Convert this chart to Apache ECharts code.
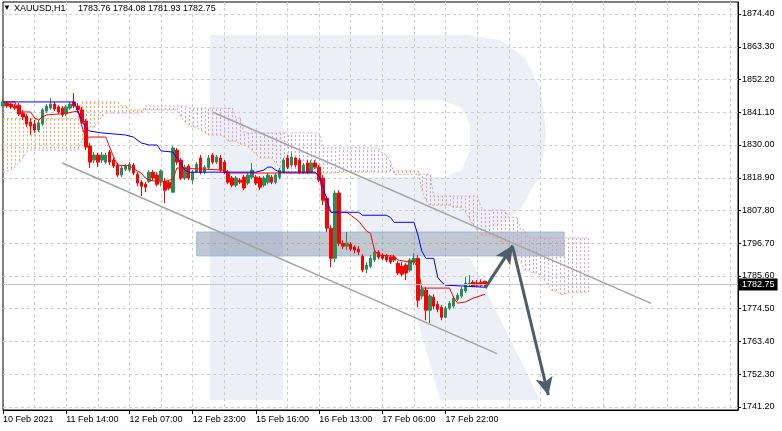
<!DOCTYPE html>
<html><head><meta charset="utf-8">
<script src="https://cdn.jsdelivr.net/npm/echarts@6/dist/echarts.min.js"></script>
<style>html,body{margin:0;padding:0;background:#fff}#c{width:782px;height:431px}</style>
</head><body><div id="c"></div>
<script>
// ---------------- data ----------------
const symbolName = 'XAUUSD,H1';
const lastQuote = ['1783.76', '1784.08', '1781.93', '1782.75'];
const lastPrice = 1782.75;
const timeLabels = ['10 Feb 2021', '11 Feb 14:00', '12 Feb 07:00', '12 Feb 23:00', '15 Feb 16:00', '16 Feb 13:00', '17 Feb 06:00', '17 Feb 22:00'];
const barsPerTimeLabel = 16;
const totalSlots = 187;
const yTicks = [1741.2, 1752.3, 1763.4, 1774.5, 1785.6, 1796.7, 1807.8, 1818.9, 1830.0, 1841.1, 1852.2, 1863.3, 1874.4];
const yMin = 1740.18, yMax = 1878.47;

const opens = [1843.2,1844.2,1843.9,1843.2,1843.5,1840.8,1839.8,1837.8,1837.1,1835.1,1837.1,1841.5,1842.5,1843.9,1842.9,1842.5,1840.5,1842.5,1844.6,1843.2,
1841.9,1838.1,1829.7,1824.9,1826.6,1824.9,1824.2,1827.6,1824.9,1823.2,1819.8,1821.8,1821.5,1823.2,1820.1,1817.4,1816.7,1817.7,1820.8,1819.8,
1817.7,1817.7,1817.4,1814.0,1828.3,1824.9,1818.8,1822.9,1818.1,1820.8,1825.6,1820.8,1822.2,1826.6,1824.2,1825.6,1824.2,1820.8,1818.8,1816.4,
1818.1,1819.1,1817.1,1819.1,1819.1,1818.8,1816.4,1817.4,1819.1,1817.4,1819.1,1820.8,1825.6,1823.2,1825.6,1824.9,1820.8,1823.9,1820.8,1823.9,
1822.5,1818.8,1812.0,1801.8,1791.6,1813.7,1796.7,1795.7,1796.4,1795.4,1794.7,1792.3,1787.9,1788.9,1791.0,1793.7,1792.7,1792.3,1792.0,1792.0,
1789.9,1788.9,1789.3,1787.6,1790.3,1791.6,1778.8,1780.8,1774.0,1778.4,1776.0,1775.0,1771.6,1774.7,1775.4,1777.7,1778.8,1780.5,1782.8,1783.5,
1783.2,1783.5,1783.76];
const closes = [1844.6,1843.2,1842.9,1842.5,1840.5,1839.5,1837.1,1836.4,1835.1,1837.5,1841.9,1843.2,1843.9,1842.2,1841.2,1840.2,1842.9,1843.9,1843.2,1841.9,
1837.8,1829.3,1824.2,1826.6,1824.2,1826.6,1826.6,1824.2,1822.9,1819.8,1822.2,1822.9,1823.5,1820.5,1817.1,1816.0,1815.7,1820.8,1818.8,1816.7,
1821.2,1814.7,1815.4,1829.0,1824.2,1818.8,1822.5,1818.8,1820.8,1823.5,1820.8,1822.5,1825.6,1824.2,1825.9,1821.5,1820.8,1817.4,1816.4,1818.8,
1817.4,1815.4,1819.8,1821.5,1817.1,1815.7,1818.8,1819.8,1817.4,1819.8,1821.5,1824.9,1822.5,1825.9,1823.2,1820.8,1823.2,1820.8,1823.9,1822.5,
1818.1,1811.3,1801.8,1791.6,1813.7,1796.7,1795.7,1796.7,1794.7,1794.4,1793.7,1787.6,1789.3,1791.6,1793.7,1792.0,1791.6,1791.0,1790.3,1791.0,
1786.6,1786.2,1786.6,1791.0,1791.6,1777.4,1781.1,1774.0,1778.8,1775.4,1774.3,1771.6,1774.7,1776.4,1778.1,1779.1,1781.1,1783.2,1783.2,1782.2,
1782.5,1782.5,1782.75];
const highs = [1845.6,1844.9,1844.2,1843.9,1844.2,1841.9,1840.5,1839.1,1838.5,1838.5,1842.5,1843.9,1845.9,1844.6,1843.5,1843.2,1843.5,1844.6,1847.6,1844.2,
1842.9,1838.8,1830.7,1827.6,1827.3,1827.6,1827.3,1828.3,1825.6,1823.9,1822.9,1823.5,1824.2,1823.9,1820.8,1818.1,1817.4,1821.5,1821.5,1820.8,
1821.8,1818.8,1818.1,1829.7,1829.0,1825.6,1823.2,1823.5,1821.5,1824.2,1826.6,1823.2,1826.6,1827.3,1826.6,1826.6,1824.9,1821.5,1819.5,1819.5,
1818.8,1819.8,1820.5,1823.9,1819.8,1819.5,1819.5,1820.5,1819.8,1820.5,1822.2,1825.6,1826.6,1827.3,1825.9,1825.6,1823.9,1824.9,1824.9,1824.9,
1823.2,1819.8,1812.7,1802.8,1814.7,1814.7,1797.7,1800.5,1797.1,1796.0,1795.7,1793.0,1790.3,1792.7,1794.7,1794.4,1793.3,1793.0,1792.7,1792.7,
1790.6,1790.3,1789.9,1791.6,1793.3,1792.7,1782.2,1781.8,1779.4,1779.4,1777.1,1775.7,1775.4,1777.1,1778.8,1779.8,1781.8,1785.2,1785.9,1784.2,
1784.2,1784.5,1784.08];
const lows = [1842.5,1842.5,1842.2,1841.9,1839.8,1838.5,1836.1,1833.4,1834.1,1834.4,1836.4,1840.8,1841.9,1841.5,1840.5,1839.5,1839.8,1841.9,1842.5,1840.8,
1837.1,1828.3,1822.2,1823.9,1822.5,1823.9,1823.5,1823.2,1822.2,1819.1,1819.1,1821.2,1820.8,1819.8,1816.0,1812.7,1814.0,1817.1,1818.1,1816.0,
1816.0,1810.3,1814.7,1813.7,1823.2,1818.1,1818.1,1818.1,1816.7,1820.5,1820.1,1820.1,1821.5,1823.5,1823.5,1820.8,1820.1,1816.7,1815.7,1815.7,
1816.7,1814.7,1816.4,1818.4,1816.4,1814.7,1815.7,1816.7,1816.7,1816.7,1818.4,1820.5,1821.8,1822.5,1822.5,1820.1,1820.1,1820.1,1820.5,1821.8,
1817.4,1809.6,1800.5,1788.6,1790.3,1795.7,1794.7,1794.4,1794.0,1793.3,1792.7,1786.9,1786.6,1788.2,1790.3,1791.3,1791.0,1790.3,1789.6,1790.3,
1785.9,1785.5,1784.2,1786.9,1789.3,1775.0,1777.7,1770.6,1769.6,1774.3,1773.3,1770.6,1771.3,1774.0,1774.7,1777.1,1778.1,1779.8,1782.2,1781.8,
1781.8,1781.8,1781.93];

// Ichimoku lines, read as [bar index, price] vertices
const tenkan = [[0,1844.6],[3,1844.6],[4,1841.2],[7,1841.2],[8,1839.1],[9,1838.5],[10,1839.5],[11,1840.2],[14,1840.5],[16,1840.8],[19,1841.5],[20,1836.1],[21,1832.4],[22,1832.7],[26,1832.7],[27,1829.3],[28,1825.9],[29,1823.2],[32,1822.9],[34,1821.2],[35,1820.5],[36,1818.8],[37,1818.1],[40,1817.4],[43,1818.4],[44,1822.2],[56,1821.5],[57,1820.5],[79,1820.5],[80,1819.5],[81,1813.0],[82,1808.9],[83,1807.2],[87,1807.2],[88,1806.2],[90,1804.2],[92,1800.8],[93,1800.1],[94,1794.4],[95,1792.7],[99,1792.3],[100,1791.0],[103,1790.3],[104,1790.6],[105,1788.2],[106,1781.5],[113,1781.5],[114,1778.4],[115,1776.4],[117,1776.8],[119,1778.1],[122,1779.4]];
const kijun = [[0,1844.6],[18,1844.6],[20,1838.1],[21,1835.7],[22,1834.7],[25,1834.1],[31,1833.4],[33,1832.7],[35,1830.7],[37,1830.0],[39,1830.0],[40,1828.0],[43,1827.6],[44,1825.6],[45,1823.9],[46,1821.5],[47,1820.8],[64,1820.8],[66,1821.5],[67,1822.5],[68,1822.5],[69,1821.5],[70,1820.8],[79,1820.8],[80,1819.5],[81,1815.7],[82,1811.3],[83,1807.2],[90,1807.2],[91,1806.2],[97,1806.2],[98,1805.5],[99,1803.8],[104,1803.8],[105,1799.5],[106,1794.0],[107,1791.6],[109,1791.6],[110,1785.2],[111,1783.5],[112,1782.5],[122,1781.8]];
const spanA = [1838.9,1838.9,1838.9,1838.9,1838.9,1838.9,1838.9,1838.9,1838.9,1838.9,1838.9,1838.9,1838.9,1838.9,1838.9,1838.9,1838.9,1838.9,1838.9,1838.9,
1844.6,1844.6,1844.6,1844.6,1844.6,1844.6,1844.6,1844.6,1844.6,1844.6,1843.2,1843.2,
1841.9,1841.9,1841.9,1841.9,1841.9,1841.9,1841.9,1841.9,1841.9,1841.9,1841.9,1841.9,1841.9,
1839.8,1837.8,1836.8,1836.1,1836.1,1835.1,1834.1,1833.4,1833.4,1833.4,1833.4,1832.7,1831.3,1831.3,1831.3,1830.3,1830.3,1829.3,1828.3,1826.9,
1825.6,1825.6,1825.6,1825.6,1823.9,1822.5,1821.5,
1820.5,1820.5,1820.5,1820.5,1820.5,1820.5,1820.5,1820.5,1820.5,1820.5,1820.5,1820.5,1820.5,
1820.8,1820.8,1820.8,1820.8,1820.8,1820.8,1820.8,1820.8,1820.8,1820.8,1820.8,1820.8,1820.8,
1821.2,1821.2,1821.2,1821.2,1821.2,1821.2,1821.2,1821.2,
1814.7,1811.3,1809.6,1809.6,1809.6,1809.6,1809.6,1809.6,1808.9,1808.9,1808.9,1807.2,1805.2,1802.8,1801.2,
1799.5,1799.5,1799.5,1798.5,1798.5,1797.1,1797.1,1795.7,1794.4,1792.3,1790.3,1787.6,1787.6,1786.6,1786.6,1785.9,1784.2,1782.5,
1780.5,1780.5,1779.4,1779.4,1780.1,1780.1,1780.1,1780.1,1780.1,1780.1];
const spanB = [1820.8,1821.2,1821.5,1822.5,1823.9,1825.6,1827.6,
1828.3,1828.3,1828.3,1828.3,1828.3,1828.3,1828.3,1828.3,1828.3,1828.3,1828.3,1828.3,1828.3,
1831.7,1834.1,1836.1,1836.1,1837.8,1839.5,
1840.8,1840.8,1840.8,1840.8,1840.8,1840.8,1840.8,1840.8,1840.8,1840.8,
1843.2,1843.2,1843.2,1843.2,1843.2,1843.2,1843.2,1843.2,1843.2,1843.2,1843.2,
1842.5,1842.5,1842.5,1842.5,1842.5,1842.5,1842.5,1842.5,1842.5,1842.5,1842.5,1842.5,
1839.1,1839.1,
1834.1,1834.1,1834.1,1834.1,1834.1,1834.1,1834.1,1834.1,1834.1,1834.1,1834.1,1834.1,1834.1,1834.1,1834.1,1834.1,1834.1,1834.1,1834.1,1834.1,
1829.0,1829.0,1829.0,1829.0,1829.0,1829.0,1829.0,1829.0,1829.0,1829.0,1829.0,1829.0,1829.0,1829.0,1829.0,
1827.3,1826.6,1824.5,
1820.1,1820.1,1820.1,1820.1,1820.1,1820.1,1820.1,1820.1,1820.1,1820.1,
1812.7,1812.7,1812.7,1812.7,1812.7,1812.7,1812.7,1812.7,1812.7,1812.7,1812.7,1812.7,
1808.9,1807.9,1807.9,1807.9,1807.9,1807.9,1807.9,1805.5,1805.5,1805.5,1801.2,1801.2,
1798.5,1798.5,1798.5,1798.5,1798.5,1798.5,1798.5,1798.5,1798.5,1798.5,1798.5,1798.5,1798.5,1798.5,1798.5,1798.5];

// drawing objects (bar index, price)
const upperChannel = [[53, 1841.2], [164, 1776.3]];
const lowerChannel = [[15, 1823.9], [125, 1759.3]];
const zone = [[49, 1800.5], [142, 1792.4]];
const arrowUp = [[122, 1781.5], [129, 1795.9]];
const arrowDown = [[129, 1795.3], [138, 1745.2]];

// ---------------- chart ----------------
const categories = [];
for (let i = 0; i < totalSlots; i++) {
  const k = i / barsPerTimeLabel;
  categories.push(i % barsPerTimeLabel === 0 && k < timeLabels.length ? timeLabels[k] : '');
}
const candles = opens.map((o, i) => [o, closes[i], lows[i], highs[i]]);
const cloud = spanA.map((a, i) => [i, a, spanB[i]]);
const isTimeTick = (i) => i % barsPerTimeLabel === 0 && i / barsPerTimeLabel < timeLabels.length;

const FONT = 'Liberation Sans, Arial, sans-serif';
const WM = '#ECF0F6';
const UPC = '#F4A460', DNC = '#D2A0D2';
const chart = echarts.init(document.getElementById('c'), null, {renderer: 'canvas'});
chart.setOption({
  animation: false,
  backgroundColor: '#ffffff',
  textStyle: {fontFamily: FONT},
  grid: {left: 3, right: 44, top: 2, bottom: 21, show: true, borderColor: '#000', borderWidth: 1, backgroundColor: 'transparent'},
  graphic: [
    {type: 'rect', z: -10, silent: true, shape: {x: 210, y: 35, width: 73, height: 365}, style: {fill: WM}},
    {type: 'polygon', z: -10, silent: true, shape: {points: [[283,35],[468,35],[500,40],[525,58],[541,90],[546,134],[540,175],[520,210],[495,228],[466,233],[357,233],[357,177],[446,177],[462,170],[470,150],[470,125],[462,108],[442,100],[283,100]]}, style: {fill: WM}},
    {type: 'polygon', z: -10, silent: true, shape: {points: [[400, 258], [470, 258], [540, 400], [440, 400]]}, style: {fill: WM}},
    {type: 'text', z: 20, left: 3, top: 4, style: {text: '▼', fontSize: 8, fill: '#000', fontFamily: FONT}},
    {type: 'text', z: 20, left: 14, top: 4, style: {text: symbolName, fontSize: 9, fill: '#000', fontFamily: FONT}},
    {type: 'text', z: 20, left: 78, top: 4, style: {text: lastQuote.join(' '), fontSize: 9, fill: '#000', fontFamily: FONT}}
  ],
  xAxis: {
    type: 'category', data: categories, boundaryGap: false,
    axisLine: {show: true, lineStyle: {color: '#000', width: 1}},
    axisTick: {show: true, length: 4, interval: isTimeTick, lineStyle: {color: '#000'}},
    axisLabel: {show: true, interval: isTimeTick, align: 'left', margin: 5, fontSize: 9, color: '#000', fontFamily: FONT},
    splitLine: {show: true, interval: (i) => i % 8 === 0 && i > 0, lineStyle: {color: '#CFCFCF', type: [3, 3], width: 1}}
  },
  yAxis: {
    type: 'value', position: 'right', min: yMin, max: yMax,
    axisLine: {show: true, lineStyle: {color: '#000', width: 1}},
    axisTick: {show: true, length: 3, customValues: yTicks, lineStyle: {color: '#000'}},
    axisLabel: {show: true, customValues: yTicks, margin: 4, fontSize: 9, color: '#000', fontFamily: FONT, formatter: (v) => v.toFixed(2)},
    splitLine: {show: true, lineStyle: {color: '#CFCFCF', type: [3, 3], width: 1}}
  },
  series: [
    {
      type: 'custom', name: 'kumo', z: 1, silent: true, data: cloud, encode: {x: 0, y: [1, 2]},
      renderItem: (params, api) => {
        const i = api.value(0), a = api.value(1), b = api.value(2);
        const p1 = api.coord([i, a]), p2 = api.coord([i, b]);
        const x = Math.round(p1[0]) + 0.5;
        return {type: 'line', shape: {x1: x, y1: p1[1], x2: x, y2: p2[1]},
          style: {stroke: a >= b ? UPC : DNC, lineWidth: 1, lineDash: [2, 2]}};
      }
    },
    {type: 'line', name: 'spanA', z: 2, silent: true, data: spanA, symbol: 'none', lineStyle: {color: UPC, width: 1, type: [2, 2]}},
    {type: 'line', name: 'spanB', z: 2, silent: true, data: spanB, symbol: 'none', lineStyle: {color: DNC, width: 1, type: [2, 2]}},
    {
      type: 'candlestick', name: 'XAUUSD', z: 3, data: candles, barWidth: 3,
      itemStyle: {color: '#2E8B57', color0: '#FF0000', borderColor: '#2E8B57', borderColor0: '#FF0000', borderWidth: 1},
      markLine: {
        silent: true, symbol: 'none', animation: false,
        lineStyle: {color: '#C8C8C8', width: 1, type: 'solid'},
        label: {show: true, position: 'end', formatter: lastPrice.toFixed(2), backgroundColor: '#000', color: '#fff', fontSize: 9, fontFamily: FONT, padding: [2, 3, 1, 3], distance: 1},
        data: [{yAxis: lastPrice}]
      }
    },
    {type: 'line', name: 'tenkan', z: 4, silent: true, data: tenkan, symbol: 'none', lineStyle: {color: '#FF0000', width: 1}},
    {type: 'line', name: 'kijun', z: 4, silent: true, data: kijun, symbol: 'none', lineStyle: {color: '#0000FF', width: 1}},
    {type: 'line', name: 'upper', z: 5, silent: true, data: upperChannel, symbol: 'none', lineStyle: {color: '#A4A4A4', width: 1.5}},
    {type: 'line', name: 'lower', z: 5, silent: true, data: lowerChannel, symbol: 'none', lineStyle: {color: '#A4A4A4', width: 1.5}},
    {
      type: 'line', name: 'zone', z: 6, data: [], silent: true,
      markArea: {silent: true, itemStyle: {color: 'rgba(105,125,148,0.42)', borderColor: 'rgba(150,185,230,0.9)', borderWidth: 1},
        data: [[{coord: zone[0]}, {coord: zone[1]}]]}
    },
    {
      type: 'line', name: 'arrows', z: 7, data: [], silent: true,
      markLine: {silent: true, symbol: ['none', 'arrow'], symbolSize: [13, 18], animation: false,
        lineStyle: {color: '#4E5D69', width: 3, type: 'solid'}, label: {show: false},
        data: [[{coord: arrowUp[0]}, {coord: arrowUp[1]}], [{coord: arrowDown[0]}, {coord: arrowDown[1]}]]}
    }
  ]
});
</script>
</body></html>
